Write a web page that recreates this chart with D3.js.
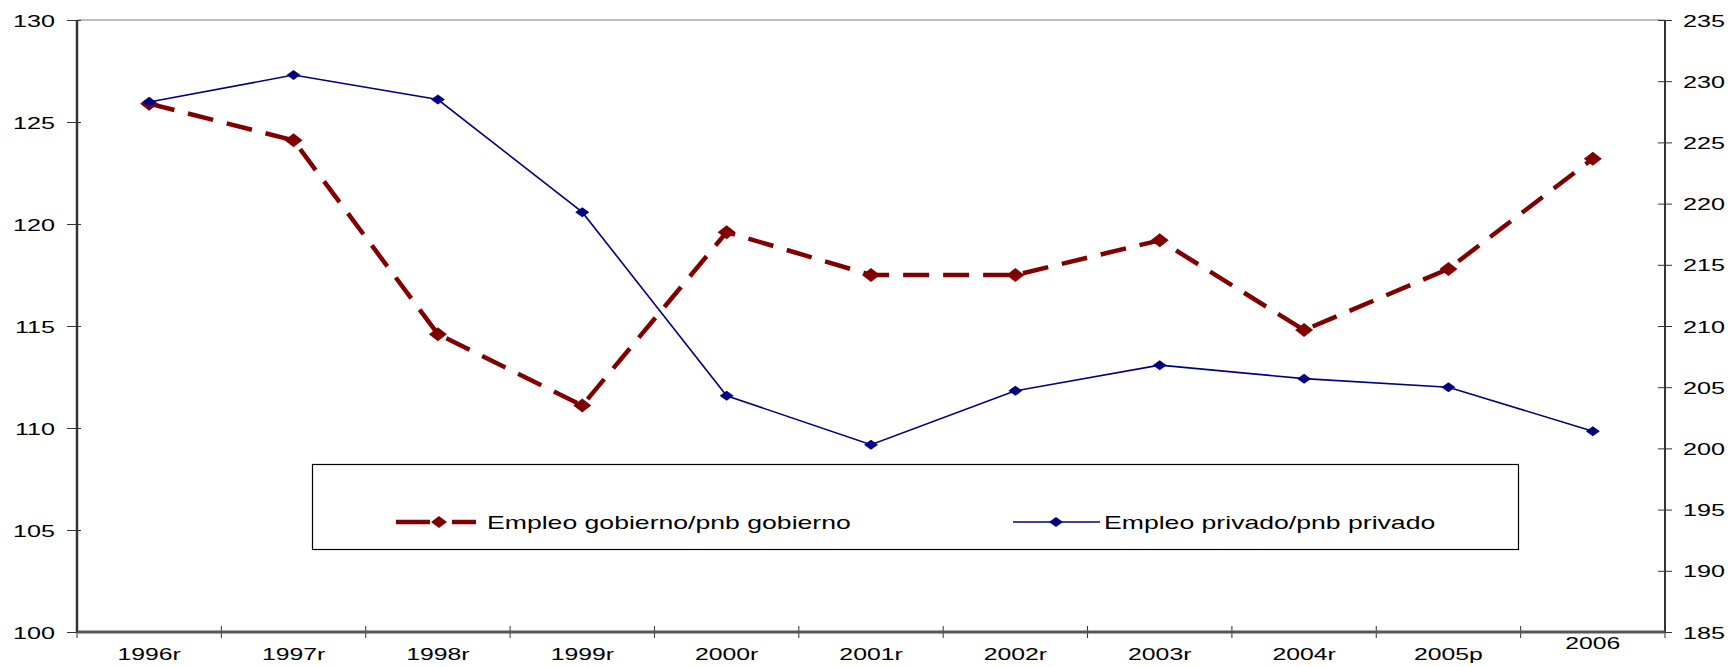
<!DOCTYPE html>
<html>
<head>
<meta charset="utf-8">
<script src="https://cdn.jsdelivr.net/npm/d3@7"></script>
<style>
  body { margin: 0; background: #fff; }
  text { font-family: "Liberation Sans", Arial, sans-serif; fill: #000; }
</style>
</head>
<body>
<div id="chart"></div>
<script>
// years on the x axis
var years = ["1996r","1997r","1998r","1999r","2000r","2001r","2002r","2003r","2004r","2005p","2006"];
// left axis series
var gobierno = [125.9, 124.1, 114.6, 111.1, 119.6, 117.5, 117.5, 119.2, 114.8, 117.8, 123.2];
// right axis series
var privado = [228.3, 230.5, 228.5, 219.3, 204.3, 200.3, 204.7, 206.8, 205.7, 205.0, 201.4];
var leftTicks = [100, 105, 110, 115, 120, 125, 130];
var rightTicks = [185, 190, 195, 200, 205, 210, 215, 220, 225, 230, 235];
var names = ["Empleo gobierno/pnb gobierno", "Empleo privado/pnb privado"];

var W = 1731, H = 667;
var pLeft = 77, pRight = 1665, pTop = 20, pBottom = 632;

var svg = d3.select("#chart").append("svg")
    .attr("width", W)
    .attr("height", H);

var x = d3.scaleBand().domain(years).range([pLeft, pRight]);
var yL = d3.scaleLinear().domain([100, 130]).range([pBottom, pTop]);
var yR = d3.scaleLinear().domain([185, 235]).range([pBottom, pTop]);

// the original's text is drawn wide, so stretch glyphs horizontally
function stretch(sel, k) {
    sel.each(function () {
        var L = this.getComputedTextLength();
        d3.select(this).attr("textLength", L * k).attr("lengthAdjust", "spacingAndGlyphs");
    });
}

// top border of plot area
svg.append("line")
    .attr("x1", pLeft).attr("x2", pRight)
    .attr("y1", pTop).attr("y2", pTop)
    .attr("stroke", "#808080").attr("stroke-width", 1);

// left axis
var gl = svg.append("g").attr("transform", "translate(" + pLeft + ",0)")
    .call(d3.axisLeft(yL).tickValues(leftTicks).tickSize(0).tickPadding(22));
gl.select(".domain").remove();
gl.selectAll(".tick line").attr("x1", -10).attr("x2", 4).attr("stroke", "#333");
gl.selectAll("text").style("font-size", "17px").attr("dy", "0.36em");
stretch(gl.selectAll("text"), 1.48);
svg.append("line").attr("x1", pLeft).attr("x2", pLeft).attr("y1", pTop).attr("y2", pBottom + 1)
    .attr("stroke", "#333").attr("stroke-width", 2.5);

// right axis
var gr = svg.append("g").attr("transform", "translate(" + pRight + ",0)")
    .call(d3.axisRight(yR).tickValues(rightTicks).tickSize(0).tickPadding(18));
gr.select(".domain").remove();
gr.selectAll(".tick line").attr("x1", -7).attr("x2", 7).attr("stroke", "#333");
gr.selectAll("text").style("font-size", "17px").attr("dy", "0.36em");
stretch(gr.selectAll("text"), 1.48);
svg.append("line").attr("x1", pRight).attr("x2", pRight).attr("y1", pTop).attr("y2", pBottom + 1)
    .attr("stroke", "#333").attr("stroke-width", 2);

// bottom axis
var gb = svg.append("g").attr("transform", "translate(0," + pBottom + ")")
    .call(d3.axisBottom(x).tickSize(0).tickPadding(12));
gb.select(".domain").remove();
gb.selectAll(".tick line").remove();
gb.selectAll("text").style("font-size", "16.5px").attr("dy", "0.95em");
gb.selectAll(".tick").filter(function (d) { return d === "2006"; })
    .select("text").attr("dy", "0.3em");
stretch(gb.selectAll("text"), 1.5);
var bounds = years.map(function (d) { return x(d); }).concat([pRight]);
svg.append("g").selectAll("line").data(bounds).enter().append("line")
    .attr("x1", function (d) { return d; }).attr("x2", function (d) { return d; })
    .attr("y1", pBottom - 6).attr("y2", pBottom + 6)
    .attr("stroke", "#333");
svg.append("line").attr("x1", pLeft).attr("x2", pRight).attr("y1", pBottom).attr("y2", pBottom)
    .attr("stroke", "#555").attr("stroke-width", 3);

var cx = function (d, i) { return x(years[i]) + x.bandwidth() / 2; };

function diamond(w, h) {
    return "M0," + (-h) + "L" + w + ",0L0," + h + "L" + (-w) + ",0Z";
}

// gobierno series
svg.append("path")
    .datum(gobierno)
    .attr("fill", "none")
    .attr("stroke", "#800000")
    .attr("stroke-width", 4.5)
    .attr("stroke-dasharray", "26,14")
    .attr("d", d3.line().x(cx).y(function (d) { return yL(d); }));
svg.append("g").selectAll("path").data(gobierno).enter().append("path")
    .attr("d", diamond(9, 7))
    .attr("fill", "#800000")
    .attr("transform", function (d, i) { return "translate(" + cx(d, i) + "," + yL(d) + ")"; });

// privado series
svg.append("path")
    .datum(privado)
    .attr("fill", "none")
    .attr("stroke", "#000080")
    .attr("stroke-width", 1.6)
    .attr("d", d3.line().x(cx).y(function (d) { return yR(d); }));
svg.append("g").selectAll("path").data(privado).enter().append("path")
    .attr("d", diamond(7, 5))
    .attr("fill", "#000080")
    .attr("transform", function (d, i) { return "translate(" + cx(d, i) + "," + yR(d) + ")"; });

// legend
var lg = svg.append("g");
lg.append("rect")
    .attr("x", 312.5).attr("y", 464.5).attr("width", 1206).attr("height", 85)
    .attr("fill", "#fff").attr("stroke", "#000").attr("stroke-width", 1.2);
var ly = 522;
lg.append("line").attr("x1", 396).attr("x2", 430).attr("y1", ly).attr("y2", ly)
    .attr("stroke", "#800000").attr("stroke-width", 4.5);
lg.append("line").attr("x1", 452).attr("x2", 476).attr("y1", ly).attr("y2", ly)
    .attr("stroke", "#800000").attr("stroke-width", 4.5);
lg.append("path").attr("d", diamond(8, 6)).attr("fill", "#800000")
    .attr("transform", "translate(439," + ly + ")");
var lt0 = lg.append("text").attr("x", 487).attr("y", ly).attr("dy", "0.35em")
    .style("font-size", "19px").text(names[0]);
lg.append("line").attr("x1", 1013).attr("x2", 1100).attr("y1", ly).attr("y2", ly)
    .attr("stroke", "#000080").attr("stroke-width", 1.6);
lg.append("path").attr("d", diamond(7, 5)).attr("fill", "#000080")
    .attr("transform", "translate(1056," + ly + ")");
var lt1 = lg.append("text").attr("x", 1104).attr("y", ly).attr("dy", "0.35em")
    .style("font-size", "19px").text(names[1]);
stretch(lt0, 1.4);
stretch(lt1, 1.4);
</script>
</body>
</html>
